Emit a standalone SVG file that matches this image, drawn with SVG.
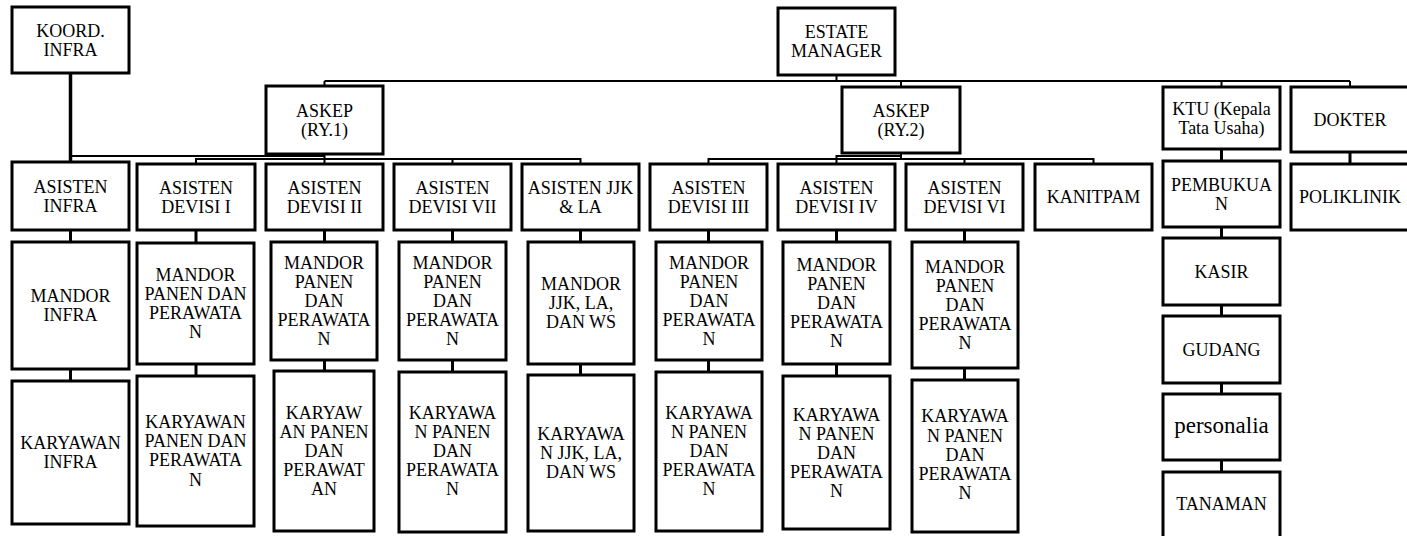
<svg xmlns="http://www.w3.org/2000/svg" width="1407" height="536" viewBox="0 0 1407 536">
<style>
.b{fill:#fff;stroke:#000;stroke-width:3}
.t{font-family:'Liberation Serif','Times New Roman',Times,'DejaVu Serif',serif;font-size:18px;fill:#000;text-anchor:middle}
.p{font-size:23px}
.c{fill:none;stroke:#000;stroke-width:3}
.h{fill:none;stroke:#000;stroke-width:2}
</style>
<rect width="1407" height="536" fill="#fff"/>
<g id="connectors">
<path class="h" d="M836.5,75V81M324.5,81H1350M324.5,81V86M901,81V87M1221.5,81V87M1350,81V87"/>
<path class="c" d="M70.5,73V162" style="stroke-width:3.5"/>
<path class="h" d="M324.5,154V156H70.5M324.5,154V164M324.5,159H196V164M324.5,159H580.5V164M452.5,159V164"/>
<path class="h" d="M901,153V159H708.5V164M901,156H836.5V164M901,159H1093.5V164M964.5,159V164"/>
<path class="c" d="M70.5,230V242M196,230V243M324.5,230V242M452.5,230V242M580.5,230V242M708.5,230V242M836.5,230V242M964.5,230V242"/>
<path class="c" d="M70.5,369V381M196,364V376M324.5,360V371M452.5,360V372M580.5,364V375M708.5,360V372M836.5,364V376M964.5,368V380"/>
<path class="c" d="M1221.5,149V161M1221.5,227V238M1221.5,305V316M1221.5,383V394M1221.5,460V472M1350,152V164"/>
</g>
<g id="koord-infra"><rect class="b" x="12" y="7" width="117" height="66"/><text class="t" font-family="Liberation Serif, serif"><tspan x="70.5" y="36.5">KOORD.</tspan><tspan x="70.5" y="55.5">INFRA</tspan></text></g>
<g id="estate-manager"><rect class="b" x="778" y="8" width="117" height="67"/><text class="t"><tspan x="836.5" y="38">ESTATE</tspan><tspan x="836.5" y="57">MANAGER</tspan></text></g>
<g id="askep-ry1"><rect class="b" x="266" y="86" width="117" height="68"/><text class="t"><tspan x="324.5" y="116.5">ASKEP</tspan><tspan x="324.5" y="135.5">(RY.1)</tspan></text></g>
<g id="askep-ry2"><rect class="b" x="842" y="87" width="118" height="66"/><text class="t"><tspan x="901" y="116.5">ASKEP</tspan><tspan x="901" y="135.5">(RY.2)</tspan></text></g>
<g id="ktu"><rect class="b" x="1163" y="87" width="117" height="62"/><text class="t"><tspan x="1221.5" y="114.5">KTU (Kepala</tspan><tspan x="1221.5" y="133.5">Tata Usaha)</tspan></text></g>
<g id="dokter"><rect class="b" x="1291" y="87" width="118" height="65"/><text class="t" x="1350" y="125.5">DOKTER</text></g>
<g id="asisten-infra"><rect class="b" x="12" y="162" width="117" height="68"/><text class="t"><tspan x="70.5" y="192.5">ASISTEN</tspan><tspan x="70.5" y="211.5">INFRA</tspan></text></g>
<g id="asisten-devisi-1"><rect class="b" x="137" y="164" width="118" height="66"/><text class="t"><tspan x="196" y="193.5">ASISTEN</tspan><tspan x="196" y="212.5">DEVISI I</tspan></text></g>
<g id="asisten-devisi-2"><rect class="b" x="266" y="164" width="117" height="66"/><text class="t"><tspan x="324.5" y="193.5">ASISTEN</tspan><tspan x="324.5" y="212.5">DEVISI II</tspan></text></g>
<g id="asisten-devisi-7"><rect class="b" x="394" y="164" width="117" height="66"/><text class="t"><tspan x="452.5" y="193.5">ASISTEN</tspan><tspan x="452.5" y="212.5">DEVISI VII</tspan></text></g>
<g id="asisten-jjk"><rect class="b" x="522" y="164" width="117" height="66"/><text class="t"><tspan x="580.5" y="193.5">ASISTEN JJK</tspan><tspan x="580.5" y="212.5">&amp; LA</tspan></text></g>
<g id="asisten-devisi-3"><rect class="b" x="650" y="164" width="117" height="66"/><text class="t"><tspan x="708.5" y="193.5">ASISTEN</tspan><tspan x="708.5" y="212.5">DEVISI III</tspan></text></g>
<g id="asisten-devisi-4"><rect class="b" x="778" y="164" width="117" height="66"/><text class="t"><tspan x="836.5" y="193.5">ASISTEN</tspan><tspan x="836.5" y="212.5">DEVISI IV</tspan></text></g>
<g id="asisten-devisi-6"><rect class="b" x="906" y="164" width="117" height="66"/><text class="t"><tspan x="964.5" y="193.5">ASISTEN</tspan><tspan x="964.5" y="212.5">DEVISI VI</tspan></text></g>
<g id="kanitpam"><rect class="b" x="1035" y="164" width="117" height="66"/><text class="t" x="1093.5" y="203">KANITPAM</text></g>
<g id="pembukuan"><rect class="b" x="1163" y="161" width="117" height="66"/><text class="t"><tspan x="1221.5" y="190.5">PEMBUKUA</tspan><tspan x="1221.5" y="209.5">N</tspan></text></g>
<g id="poliklinik"><rect class="b" x="1291" y="164" width="118" height="66"/><text class="t" x="1350" y="203">POLIKLINIK</text></g>
<g id="mandor-infra"><rect class="b" x="12" y="242" width="117" height="127"/><text class="t"><tspan x="70.5" y="302">MANDOR</tspan><tspan x="70.5" y="321">INFRA</tspan></text></g>
<g id="karyawan-infra"><rect class="b" x="12" y="381" width="117" height="143"/><text class="t"><tspan x="70.5" y="449">KARYAWAN</tspan><tspan x="70.5" y="468">INFRA</tspan></text></g>
<g id="mandor-1"><rect class="b" x="137" y="243" width="117" height="121"/><text class="t"><tspan x="195.5" y="281">MANDOR</tspan><tspan x="195.5" y="300">PANEN DAN</tspan><tspan x="195.5" y="319">PERAWATA</tspan><tspan x="195.5" y="338">N</tspan></text></g>
<g id="karyawan-1"><rect class="b" x="137" y="376" width="117" height="150"/><text class="t"><tspan x="195.5" y="428">KARYAWAN</tspan><tspan x="195.5" y="447">PANEN DAN</tspan><tspan x="195.5" y="466.3">PERAWATA</tspan><tspan x="195.5" y="485.5">N</tspan></text></g>
<g id="mandor-2"><rect class="b" x="271" y="242" width="106" height="118"/><text class="t"><tspan x="324" y="268.6">MANDOR</tspan><tspan x="324" y="287.8">PANEN</tspan><tspan x="324" y="307">DAN</tspan><tspan x="324" y="326.2">PERAWATA</tspan><tspan x="324" y="345.4">N</tspan></text></g>
<g id="karyawan-2"><rect class="b" x="274" y="371" width="100" height="160"/><text class="t"><tspan x="324" y="418.6">KARYAW</tspan><tspan x="324" y="437.8">AN PANEN</tspan><tspan x="324" y="457">DAN</tspan><tspan x="324" y="476.2">PERAWAT</tspan><tspan x="324" y="495.4">AN</tspan></text></g>
<g id="mandor-7"><rect class="b" x="399" y="242" width="107" height="118"/><text class="t"><tspan x="452.5" y="268.6">MANDOR</tspan><tspan x="452.5" y="287.8">PANEN</tspan><tspan x="452.5" y="307">DAN</tspan><tspan x="452.5" y="326.2">PERAWATA</tspan><tspan x="452.5" y="345.4">N</tspan></text></g>
<g id="karyawan-7"><rect class="b" x="399" y="372" width="107" height="160"/><text class="t"><tspan x="452.5" y="418.6">KARYAWA</tspan><tspan x="452.5" y="437.8">N PANEN</tspan><tspan x="452.5" y="457">DAN</tspan><tspan x="452.5" y="476.2">PERAWATA</tspan><tspan x="452.5" y="495.4">N</tspan></text></g>
<g id="mandor-jjk"><rect class="b" x="528" y="242" width="106" height="122"/><text class="t"><tspan x="581" y="289.8">MANDOR</tspan><tspan x="581" y="309">JJK, LA,</tspan><tspan x="581" y="328.2">DAN WS</tspan></text></g>
<g id="karyawan-jjk"><rect class="b" x="528" y="375" width="106" height="156"/><text class="t"><tspan x="581" y="440">KARYAWA</tspan><tspan x="581" y="459.2">N JJK, LA,</tspan><tspan x="581" y="478.4">DAN WS</tspan></text></g>
<g id="mandor-3"><rect class="b" x="656" y="242" width="106" height="118"/><text class="t"><tspan x="709" y="268.6">MANDOR</tspan><tspan x="709" y="287.8">PANEN</tspan><tspan x="709" y="307">DAN</tspan><tspan x="709" y="326.2">PERAWATA</tspan><tspan x="709" y="345.4">N</tspan></text></g>
<g id="karyawan-3"><rect class="b" x="656" y="372" width="106" height="159"/><text class="t"><tspan x="709" y="418.6">KARYAWA</tspan><tspan x="709" y="437.8">N PANEN</tspan><tspan x="709" y="457">DAN</tspan><tspan x="709" y="476.2">PERAWATA</tspan><tspan x="709" y="495.4">N</tspan></text></g>
<g id="mandor-4"><rect class="b" x="783" y="242" width="107" height="122"/><text class="t"><tspan x="836.5" y="270.6">MANDOR</tspan><tspan x="836.5" y="289.8">PANEN</tspan><tspan x="836.5" y="309">DAN</tspan><tspan x="836.5" y="328.2">PERAWATA</tspan><tspan x="836.5" y="347.4">N</tspan></text></g>
<g id="karyawan-4"><rect class="b" x="783" y="376" width="107" height="153"/><text class="t"><tspan x="836.5" y="420.6">KARYAWA</tspan><tspan x="836.5" y="439.8">N PANEN</tspan><tspan x="836.5" y="459">DAN</tspan><tspan x="836.5" y="478.2">PERAWATA</tspan><tspan x="836.5" y="497.4">N</tspan></text></g>
<g id="mandor-6"><rect class="b" x="912" y="242" width="106" height="126"/><text class="t"><tspan x="965" y="272.6">MANDOR</tspan><tspan x="965" y="291.8">PANEN</tspan><tspan x="965" y="311">DAN</tspan><tspan x="965" y="330.2">PERAWATA</tspan><tspan x="965" y="349.4">N</tspan></text></g>
<g id="karyawan-6"><rect class="b" x="912" y="380" width="106" height="152"/><text class="t"><tspan x="965" y="422.4">KARYAWA</tspan><tspan x="965" y="441.6">N PANEN</tspan><tspan x="965" y="460.8">DAN</tspan><tspan x="965" y="480">PERAWATA</tspan><tspan x="965" y="499.2">N</tspan></text></g>
<g id="kasir"><rect class="b" x="1163" y="238" width="117" height="67"/><text class="t" x="1221.5" y="277.5">KASIR</text></g>
<g id="gudang"><rect class="b" x="1163" y="316" width="117" height="67"/><text class="t" x="1221.5" y="355.5">GUDANG</text></g>
<g id="personalia"><rect class="b" x="1163" y="394" width="117" height="66"/><text class="t p" x="1221.5" y="433">personalia</text></g>
<g id="tanaman"><rect class="b" x="1163" y="472" width="117" height="70"/><text class="t" x="1221.5" y="510">TANAMAN</text></g>
</svg>
